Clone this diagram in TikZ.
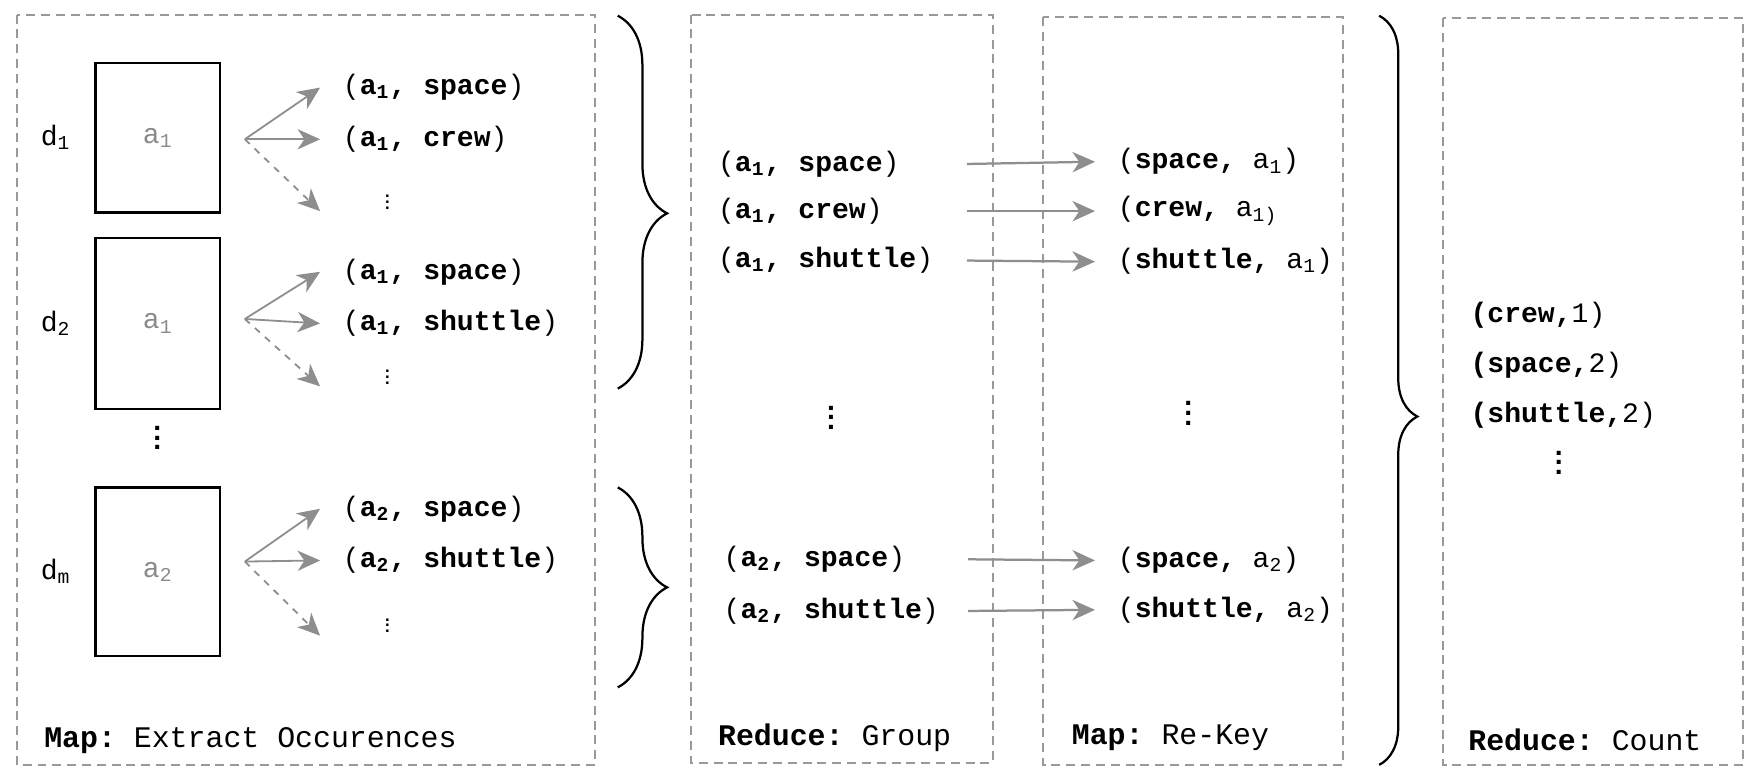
\documentclass[tikz,border=0pt]{standalone}
\usepackage{fontspec}
\setmonofont{Liberation Mono}
\usepackage{tikz}
\usetikzlibrary{arrows.meta,positioning,decorations.pathreplacing}
\definecolor{boxgray}{HTML}{999999}
\definecolor{arrowgray}{HTML}{8E8E8E}
\definecolor{textgray}{HTML}{8A8A8A}
\tikzstyle{stage}=[draw=boxgray, line width=0.9pt, dash pattern=on 4pt off 2.6pt]
\tikzstyle{docbox}=[draw=black, line width=1.1pt, minimum width=55.5pt, text=textgray]
\tikzstyle{pair}=[anchor=west, inner sep=1pt]
\tikzstyle{dots}=[inner sep=0pt]
\tikzstyle{foot}=[anchor=west, inner sep=1pt, font=\ttfamily\fontsize{13.3}{15}\selectfont]
\tikzstyle{fan}=[->, draw=arrowgray, line width=0.8pt]
\tikzstyle{flow}=[->, draw=arrowgray, line width=1pt]
\tikzstyle{grp}=[decorate, line width=1pt]
\newcommand{\ix}[1]{\textsubscript{#1}}
\newcommand{\bigdots}{\vbox{\baselineskip4.3pt\lineskiplimit0pt\hbox{\textbf{.}}\hbox{\textbf{.}}\hbox{\textbf{.}}}}
\newcommand{\smalldots}{\scalebox{0.6}{\bigdots}}

\begin{document}
\begin{tikzpicture}[x=0.5pt, y=-0.5pt, >={Stealth[length=10pt,width=9pt,inset=3pt]},
  every node/.style={font=\ttfamily\fontsize{12.5}{15}\selectfont}]
  \useasboundingbox (0,0) rectangle (1568,696);
%
  \draw[stage] (15,13) rectangle (530,681);
  \draw[stage] (615,13) rectangle (884,679);
  \draw[stage] (929,15) rectangle (1196,681);
  \draw[stage] (1285,16) rectangle (1552,681);
%
  \node[docbox, minimum height=66.5pt] (doc1) at (140.5,122.5) {a\ix{1}};
  \node[docbox, minimum height=76pt] (doc2) at (140.5,288) {a\ix{1}};
  \node[docbox, minimum height=75pt] (doc3) at (140.5,509) {a\ix{2}};
  \node (lab1) [left=7pt of doc1] {d\ix{1}};
  \node (lab2) [left=7pt of doc2] {d\ix{2}};
  \node (lab3) [left=7pt of doc3] {d\ix{m}};
  \node[dots] (docdots) at (140,390) {\bigdots};
%
  \node[pair] (m11) at (303,78) {(\textbf{a\ix{1}, space})};
  \node[pair] (m12) [below=23pt of m11.west, anchor=west] {(\textbf{a\ix{1}, crew})};
  \node[dots] (m1v) at (345,180) {\smalldots};
  \node[pair] (m21) at (303,242) {(\textbf{a\ix{1}, space})};
  \node[pair] (m22) [below=23pt of m21.west, anchor=west] {(\textbf{a\ix{1}, shuttle})};
  \node[dots] (m2v) at (345,336) {\smalldots};
  \node[pair] (m31) at (303,453) {(\textbf{a\ix{2}, space})};
  \node[pair] (m32) [below=23pt of m31.west, anchor=west] {(\textbf{a\ix{2}, shuttle})};
  \node[dots] (m3v) at (345,557) {\smalldots};
%
  \coordinate (f1) at (218,124);
  \coordinate (f2) at (218,284);
  \coordinate (f3) at (218,500);
  \coordinate (e1) at (285,188);
  \coordinate (e2) at (285,344);
  \coordinate (e3) at (285,566);
  \draw[fan] (f1) -- ([xshift=-9pt]m11.west);
  \draw[fan] (f1) -- ([xshift=-9pt]m12.west);
  \draw[fan, dashed] (f1) -- (e1);
  \draw[fan] (f2) -- ([xshift=-9pt]m21.west);
  \draw[fan] (f2) -- ([xshift=-9pt]m22.west);
  \draw[fan, dashed] (f2) -- (e2);
  \draw[fan] (f3) -- ([xshift=-9pt]m31.west);
  \draw[fan] (f3) -- ([xshift=-9pt]m32.west);
  \draw[fan, dashed] (f3) -- (e3);
%
  \node[foot] (mapone) at (37,659) {\textbf{Map:} Extract Occurences};
%
  \draw[grp, decoration={brace, amplitude=22pt, aspect=0.53}] (550,14) -- (550,346);
  \draw[grp, decoration={brace, amplitude=22pt}] (550,434) -- (550,612);
%
  \node[pair] (g11) at (637,146) {(\textbf{a\ix{1}, space})};
  \node[pair] (g12) [below=21pt of g11.west, anchor=west] {(\textbf{a\ix{1}, crew})};
  \node[pair] (g13) [below=22pt of g12.west, anchor=west] {(\textbf{a\ix{1}, shuttle})};
  \node[dots] (gv) at (740,372) {\bigdots};
  \node[pair] (g21) at (642,498) {(\textbf{a\ix{2}, space})};
  \node[pair] (g22) [below=23pt of g21.west, anchor=west] {(\textbf{a\ix{2}, shuttle})};
  \node[foot] (group) at (637,657) {\textbf{Reduce:} Group};
%
  \node[pair] (k11) at (993,144) {(\textbf{space,} a\ix{1})};
  \node[pair] (k12) [below=22pt of k11.west, anchor=west] {(\textbf{crew,} a\ix{1)}};
  \node[pair] (k13) [below=22.5pt of k12.west, anchor=west] {(\textbf{shuttle,} a\ix{1})};
  \node[dots] (kv) at (1058,368) {\bigdots};
  \node[pair] (k21) at (993,499) {(\textbf{space,} a\ix{2})};
  \node[pair] (k22) [below=22pt of k21.west, anchor=west] {(\textbf{shuttle,} a\ix{2})};
  \node[foot] (rekey) at (952,657) {\textbf{Map:} Re-Key};
%
  \draw[flow] ([xshift=112pt]g11.west) -- ([xshift=-9pt]k11.west);
  \draw[flow] ([xshift=112pt]g12.west) -- ([xshift=-9pt]k12.west);
  \draw[flow] ([xshift=112pt]g13.west) -- ([xshift=-9pt]k13.west);
  \draw[flow] ([xshift=110pt]g21.west) -- ([xshift=-9pt]k21.west);
  \draw[flow] ([xshift=110pt]g22.west) -- ([xshift=-9pt]k22.west);
%
  \draw[grp, decoration={brace, amplitude=17pt, aspect=0.535}] (1228,14) -- (1228,681);
%
  \node[pair] (c1) at (1307,281) {\textbf{(crew,}1)};
  \node[pair] (c2) [below=22pt of c1.west, anchor=west] {\textbf{(space,}2)};
  \node[pair] (c3) [below=22.5pt of c2.west, anchor=west] {\textbf{(shuttle,}2)};
  \node[dots] (cv) at (1388,412) {\bigdots};
  \node[foot] (count) at (1305,659) {\textbf{Reduce:} Count};
\end{tikzpicture}
\end{document}
